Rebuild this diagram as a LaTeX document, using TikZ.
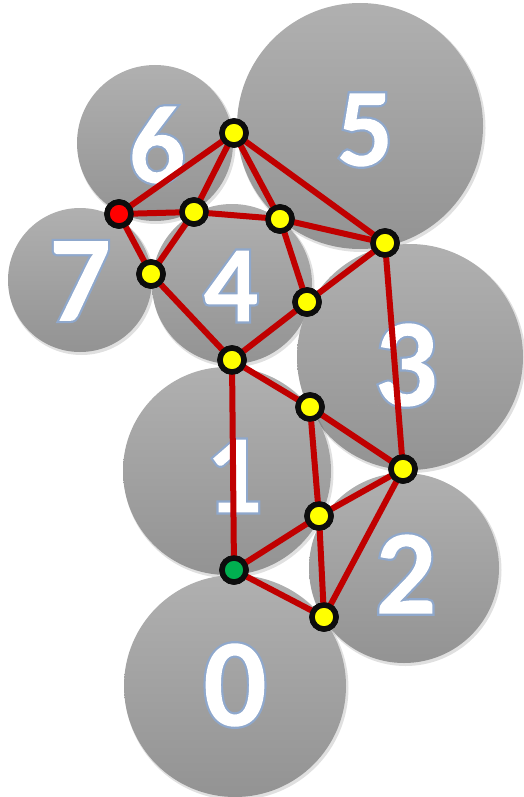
\documentclass[tikz,border=0pt]{standalone}
\usepackage{fontspec}
\setmainfont{Carlito}[BoldFont={Carlito Bold}]
\definecolor{edgered}{HTML}{C00000}
\definecolor{nodeyellow}{HTML}{FFFF00}
\definecolor{nodegreen}{HTML}{00B050}
\definecolor{nodered}{HTML}{FF0000}
\definecolor{ctop}{HTML}{B0B0B0}
\definecolor{cbot}{HTML}{939393}
% white digit with a light blue rim: fill+stroke+clip, then refill the inside white
\newcommand{\outl}[1]{\special{pdf:literal 6 Tr 4.4 w 0.56 0.66 0.80 RG}#1\special{pdf:literal 0 Tr 1 g -3000 -3000 6000 6000 re f}}
\tikzset{
  blob/.style={top color=ctop, bottom color=cbot, draw=none},
  blobshadow/.style={fill=black, opacity=0.12},
  digit/.style={font=\bfseries\fontsize{#1}{#1}\selectfont, text=white, inner sep=0pt},
  vtx/.style={circle, draw=black!95, line width=5.5pt, minimum size=24pt, inner sep=0pt},
  yv/.style={vtx, fill=nodeyellow},
  gv/.style={vtx, fill=nodegreen},
  rv/.style={vtx, fill=nodered},
  link/.style={draw=edgered, line width=6pt}
}
\newcommand{\blobat}[3]{%
  \fill[blobshadow] (#1+1.5,#2+2) circle (#3+1);
  \path[blob] (#1,#2) circle (#3);}
\begin{document}
\begin{tikzpicture}[x=1pt,y=-1pt]
\useasboundingbox (0,0) rectangle (524,797);
% circles
\blobat{80}{280}{72}
\blobat{232}{284}{80}
\blobat{155}{143}{78}
\blobat{360}{126}{123}
\blobat{410}{357}{113}
\blobat{404}{568}{95}
\blobat{227}{471}{104}
\blobat{235}{686}{111}
% digits
\begin{scope}\node[digit=126] (d0) at (235,685) {\outl{0}};\end{scope}
\begin{scope}\node[digit=112] (d1) at (234,476) {\outl{1}};\end{scope}
\begin{scope}\node[digit=121] (d2) at (406,574) {\outl{2}};\end{scope}
\begin{scope}\node[digit=126] (d3) at (406,365) {\outl{3}};\end{scope}
\begin{scope}\node[digit=109] (d4) at (231,286) {\outl{4}};\end{scope}
\begin{scope}\node[digit=112] (d5) at (365,130) {\outl{5}};\end{scope}
\begin{scope}\node[digit=112] (d6) at (157,145) {\outl{6}};\end{scope}
\begin{scope}\node[digit=123] (d7) at (80,281) {\outl{7}};\end{scope}
% vertices
\node[gv] (n0) at (234,570) {};
\node[yv] (a) at (324,617) {};
\node[yv] (b) at (319,516) {};
\node[yv] (c) at (403,469) {};
\node[yv] (d) at (310,407) {};
\node[yv] (e) at (232,360) {};
\node[yv] (f) at (307,302) {};
\node[yv] (g) at (385,243) {};
\node[yv] (h) at (280,219) {};
\node[yv] (i) at (194,212) {};
\node[rv] (r) at (119,214) {};
\node[yv] (j) at (151,274) {};
\node[yv] (t) at (234,133) {};
% edges
\foreach \p/\q in {n0/a,n0/b,n0/e,a/b,a/c,b/c,b/d,d/c,d/e,c/g,e/f,e/j,f/g,f/h,h/g,h/t,h/i,i/t,i/r,i/j,r/j,r/t,t/g}
  \path[link] (\p.center) -- (\q.center);
% redraw vertices on top
\foreach \nm/\st in {n0/gv,a/yv,b/yv,c/yv,d/yv,e/yv,f/yv,g/yv,h/yv,i/yv,r/rv,j/yv,t/yv}
  \node[\st] at (\nm) {};
\end{tikzpicture}
\end{document}
